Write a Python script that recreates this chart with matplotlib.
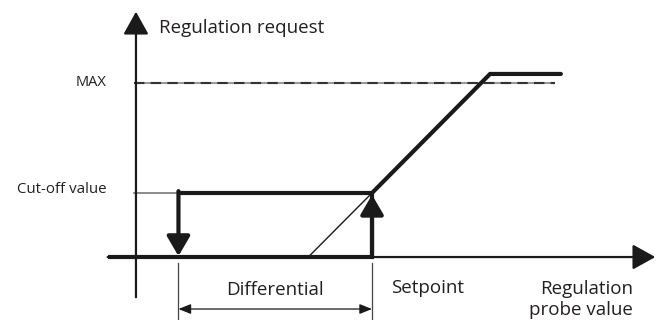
import numpy as np
import matplotlib
matplotlib.use("Agg")
import matplotlib.pyplot as plt

plt.rcParams['font.family'] = ['Open Sans', 'DejaVu Sans']

# regulation diagram values (probe value units, request in %)
setpoint = 10.0
differential = 8.2
cutoff = 35.0
max_line = 95.0
cut_in = setpoint - differential

# output line: off until setpoint, then ramp up to the max plateau
ramp_x = [setpoint, 15.0, 18.0]
ramp_y = [cutoff, 100.0, 100.0]
ramp_ext_x = [7.3, setpoint]
ramp_ext_y = [0.0, cutoff]
hyst_x = [-1.2, setpoint, setpoint]
hyst_y = [0.0, 0.0, cutoff]
top_x = [cut_in, setpoint]
top_y = [cutoff, cutoff]

x_axis = [-1.2, 22.0]
y_axis = [-22.0, 134.0]
max_end = 17.75
dim_y = -28.4

fig = plt.figure(figsize=(6.56, 3.2), dpi=100)
ax = fig.add_axes([0, 0, 1, 1])
ax.set_xlim(-5.76, 22.03)
ax.set_ylim(-34.4, 140.4)
ax.axis('off')

dark = '#1a1a1a'
big_head = '-|>,head_length=1.4,head_width=0.78'

# axes with arrows
ax.annotate('', xy=(x_axis[1], 0), xytext=(x_axis[0], 0),
            annotation_clip=False,
            arrowprops=dict(arrowstyle=big_head, lw=1.6, color=dark,
                            shrinkA=0, shrinkB=0, clip_on=False))
ax.annotate('', xy=(0, y_axis[1]), xytext=(0, y_axis[0]),
            arrowprops=dict(arrowstyle=big_head, lw=1.6, color=dark,
                            shrinkA=0, shrinkB=0))

# MAX dashed reference line
ax.plot([-0.1, max_end], [max_line, max_line], color='#9a9a9a', lw=1.5,
        solid_capstyle='butt')
ax.plot([-0.1, max_end], [max_line, max_line], color='#333333', lw=1.5,
        dashes=(5, 3))

# cut-off reference
ax.plot([-0.1, cut_in], [cutoff, cutoff], color='#777777', lw=1.2)

# thick output lines
ax.plot(hyst_x, hyst_y, color=dark, lw=3.0, solid_joinstyle='miter',
        solid_capstyle='butt')
ax.plot(top_x, top_y, color=dark, lw=3.0, solid_capstyle='butt')
ax.plot(ramp_x, ramp_y, color=dark, lw=3.0, solid_joinstyle='miter',
        solid_capstyle='round')
ax.plot(ramp_ext_x, ramp_ext_y, color=dark, lw=1.0)

# switching arrows
sw_head = '-|>,head_length=1.2,head_width=0.7'
ax.annotate('', xy=(cut_in, 0.5), xytext=(cut_in, cutoff + 1.0),
            arrowprops=dict(arrowstyle=sw_head, lw=3.0, color=dark,
                            shrinkA=0, shrinkB=0))
ax.annotate('', xy=(setpoint, cutoff - 1.0), xytext=(setpoint, 0),
            arrowprops=dict(arrowstyle=sw_head, lw=3.0, color=dark,
                            shrinkA=0, shrinkB=0))

# differential dimension
for xv in [cut_in, setpoint]:
    ax.plot([xv, xv], [-3.3, -34.4], color='#444444', lw=0.9)
ax.annotate('', xy=(cut_in, dim_y), xytext=(setpoint, dim_y),
            arrowprops=dict(arrowstyle='<|-|>,head_length=0.75,head_width=0.3',
                            lw=0.9, color=dark, shrinkA=0, shrinkB=0))

txt = '#231f20'
ax.text(0.97, 122.4, 'Regulation request', fontsize=13.5, color=txt,
        ha='left', va='baseline')
ax.text(-1.23, max_line - 1.5, 'MAX', fontsize=10.5, color=txt,
        ha='right', va='baseline')
ax.text(-1.23, cutoff - 0.2, 'Cut-off value', fontsize=10.8, color=txt,
        ha='right', va='baseline')
ax.text((cut_in + setpoint) / 2, -20.8, 'Differential', fontsize=13.5,
        color=txt, ha='center', va='baseline')
ax.text(10.8, -19.7, 'Setpoint', fontsize=13.5, color=txt,
        ha='left', va='baseline')
ax.text(21.06, -20.2, 'Regulation', fontsize=13.5, color=txt,
        ha='right', va='baseline')
ax.text(21.06, -31.7, 'probe value', fontsize=13.5, color=txt,
        ha='right', va='baseline')

fig.savefig('out.png', dpi=100)
